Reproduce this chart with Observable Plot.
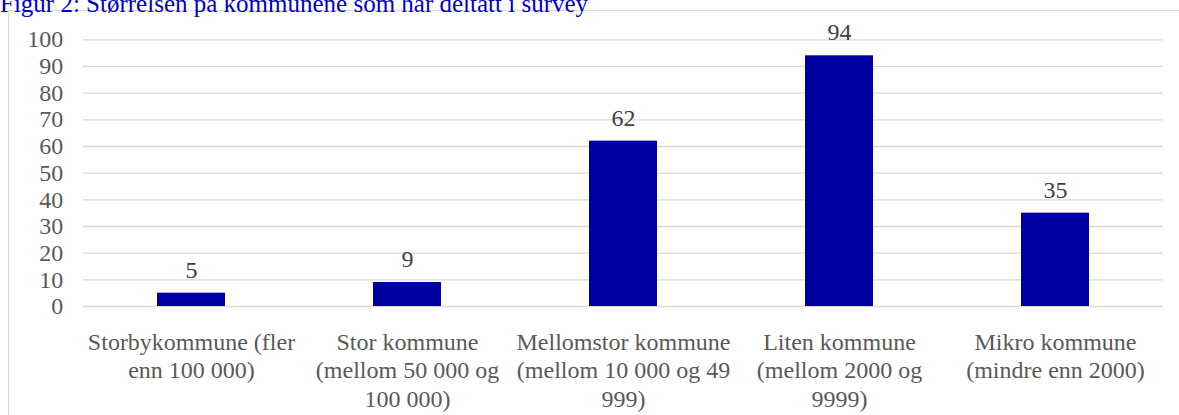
<!DOCTYPE html>
<html>
<head>
<meta charset="utf-8">
<script src="https://cdn.jsdelivr.net/npm/d3@7"></script>
<script src="https://cdn.jsdelivr.net/npm/@observablehq/plot@0.6"></script>
<style>
  html, body { margin: 0; padding: 0; background: #fff; overflow: hidden; }
  #wrap { position: relative; width: 1179px; height: 415px; overflow: hidden; }
  #frame { position: absolute; left: 8px; top: 10px; width: 1200px; height: 500px; border: 1px solid #d9d9d9; box-sizing: border-box; z-index: 0; }
  #title { position: absolute; left: 0; top: -8.6px; font-family: "Liberation Serif", "Times New Roman", serif; font-size: 25px; line-height: 25px; color: #0000CC; white-space: nowrap; z-index: 2; }
  #chart { position: absolute; left: 0; top: 0; z-index: 1; }
</style>
</head>
<body>
<div id="wrap">
  <div id="frame"></div>
  <div id="title">Figur 2: Størrelsen på kommunene som har deltatt i survey</div>
  <div id="chart"></div>
</div>
<script>
const categories = [
  "Storbykommune (fler enn 100 000)",
  "Stor kommune (mellom 50 000 og 100 000)",
  "Mellomstor kommune (mellom 10 000 og 49 999)",
  "Liten kommune (mellom 2000 og 9999)",
  "Mikro kommune (mindre enn 2000)"
];
const tickLabels = [
  "Storbykommune (fler\nenn 100 000)",
  "Stor kommune\n(mellom 50 000 og\n100 000)",
  "Mellomstor kommune\n(mellom 10 000 og 49\n999)",
  "Liten kommune\n(mellom 2000 og\n9999)",
  "Mikro kommune\n(mindre enn 2000)"
];
const values = [5, 9, 62, 94, 35];
const yTicks = [0, 10, 20, 30, 40, 50, 60, 70, 80, 90, 100];

const data = categories.map((c, i) => ({category: c, value: values[i]}));
const font = "Liberation Serif";

const chart = Plot.plot({
  width: 1179,
  height: 415,
  marginLeft: 82.7,
  marginRight: 16.3,
  marginTop: 39.3,
  marginBottom: 109,
  style: `background: transparent; font-family: '${font}', serif; font-size: 24px; overflow: visible;`,
  x: {domain: categories, paddingInner: 0.686, paddingOuter: 0.343, axis: null},
  y: {domain: [0, 100], axis: null},
  marks: [
    Plot.gridY(yTicks, {stroke: "#d9d9d9", strokeOpacity: 1, strokeWidth: 1.3}),
    Plot.axisY(yTicks, {tickSize: 0, tickPadding: 20, fill: "#595959", fontSize: 24, fontFamily: font, label: null}),
    Plot.axisX(categories, {
      tickSize: 0, tickPadding: 23, fill: "#595959", fontSize: 24, fontFamily: font,
      lineHeight: 1.19, label: null,
      tickFormat: d => tickLabels[categories.indexOf(d)]
    }),
    Plot.barY(data, {x: "category", y: "value", fill: "#0000A0"}),
    Plot.text(data, {x: "category", y: "value", text: d => String(d.value), dy: -23, lineAnchor: "middle", fontSize: 24, fontFamily: font, fill: "#404040"})
  ]
});
document.getElementById("chart").appendChild(chart);
</script>
</body>
</html>
